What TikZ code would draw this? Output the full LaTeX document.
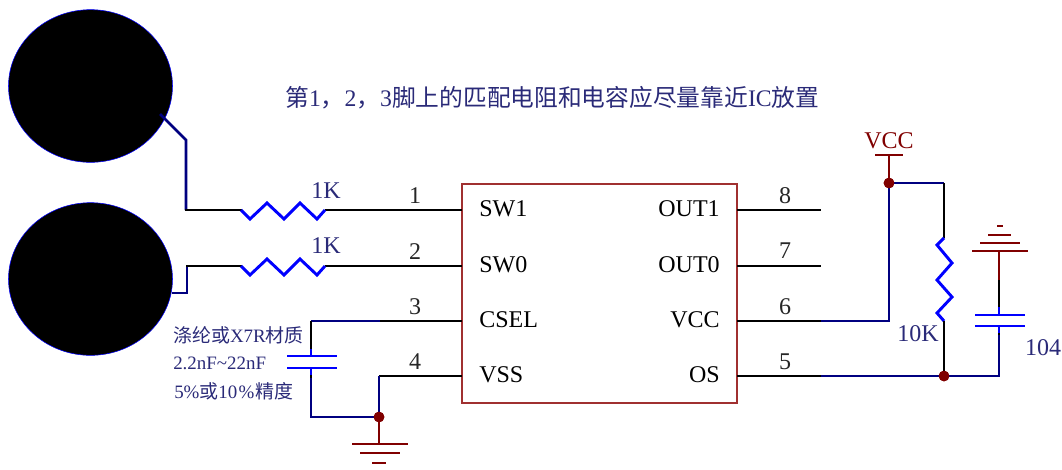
\documentclass[tikz,border=0pt]{standalone}
\usepackage{fontspec}
\setmainfont{Liberation Serif}
\newfontfamily\cjk{Noto Sans CJK SC}
\usetikzlibrary{shapes.geometric}
\definecolor{wnavy}{HTML}{000080}
\definecolor{wblue}{HTML}{0000FF}
\definecolor{wred}{HTML}{800000}
\definecolor{tnavy}{HTML}{2A2A78}
\definecolor{icred}{HTML}{A03030}
\tikzset{
  x=0.75pt,y=-0.75pt,
  wire/.style={black,line width=2pt},
  nwire/.style={wnavy,line width=2pt,line join=miter},
  part/.style={wblue,line width=2.2pt},
  pwr/.style={wred,line width=2pt},
  pad/.style={ellipse,draw=wblue,line width=0.4pt,fill=black,minimum width=123pt,minimum height=114.5pt,inner sep=0pt},
  dot/.style={circle,fill=wred,minimum size=8pt,inner sep=0pt},
  txt/.style={inner sep=0pt,font=\fontsize{18pt}{20pt}\selectfont},
  lbl/.style={txt,text=tnavy},
  note/.style={inner sep=0pt,anchor=west,text=tnavy,font=\fontsize{14.2pt}{16pt}\selectfont},
  ic/.style={draw=icred,line width=1.2pt,minimum width=206.25pt,minimum height=164.25pt,inner sep=0pt},
}
\begin{document}
\begin{tikzpicture}
\useasboundingbox (0,0) rectangle (1062,469);
% pads and IC
\node[pad] (pad1) at (90.5,86) {};
\node[pad] (pad2) at (90.5,279) {};
\node[ic] (ic) at (599.5,293.5) {};
% title
\node[lbl,anchor=west,font=\fontsize{17.8pt}{20pt}\selectfont] (title) at (285,98) {{\cjk 第}1{\cjk ，}2{\cjk ，}3{\cjk 脚上的匹配电阻和电容应尽量靠近}IC{\cjk 放置}};
% coordinates
\coordinate (p1) at (462,210); \coordinate (p2) at (462,266); \coordinate (p3) at (462,321); \coordinate (p4) at (462,376);
\coordinate (p8) at (737,210); \coordinate (p7) at (737,266); \coordinate (p6) at (737,321); \coordinate (p5) at (737,376);
\coordinate (e8) at (821,210); \coordinate (e7) at (821,266); \coordinate (e6) at (821,321); \coordinate (e5) at (821,376);
\coordinate (r1a) at (241,210); \coordinate (r1b) at (325,210);
\coordinate (r2a) at (241,266); \coordinate (r2b) at (325,266);
\coordinate (a1) at (160,114); \coordinate (a2) at (186,140); \coordinate (a3) at (186,210);
\coordinate (b1) at (172,293); \coordinate (b2) at (187,293); \coordinate (b3) at (187,266);
\coordinate (c1) at (380,321); \coordinate (c2) at (311,321); \coordinate (ct) at (311,356); \coordinate (cb) at (311,368); \coordinate (c3) at (311,417);
\coordinate (d1) at (379,376);
\node[dot] (jg) at (379,417) {};
\coordinate (g1) at (379,444);
\node[dot] (jv) at (889,183) {};
\node[dot] (jo) at (944,376) {};
\coordinate (v1) at (889,321); \coordinate (v2) at (889,155);
\coordinate (k1) at (944,183); \coordinate (k2) at (944,238); \coordinate (k3) at (944,321);
\coordinate (f1) at (999,376); \coordinate (fb) at (999,326); \coordinate (ft) at (999,315); \coordinate (f2) at (999,280); \coordinate (f3) at (999,251);
% wires
\draw[nwire] (a1) -- (a2) -- (a3);
\draw[wire,line cap=rect] (a3) -- (r1a);
\draw[wire] (r1b) -- (p1);
\draw[part] (r1a) -- ++(9,9) -- ++(17,-16) -- ++(17,16) -- ++(16,-16) -- ++(17,16) -- (r1b);
\draw[nwire] (b1) -- (b2) -- (b3);
\draw[wire,line cap=rect] (b3) -- (r2a);
\draw[wire] (r2b) -- (p2);
\draw[part] (r2a) -- ++(9,9) -- ++(17,-16) -- ++(17,16) -- ++(16,-16) -- ++(17,16) -- (r2b);
\draw[wire] (c1) -- (p3);
\draw[nwire] (c1) -- (c2);
\draw[wire] (c2) -- (ct);
\draw[wire] (cb) -- (311,378);
\draw[nwire] (311,378) -- (c3) -- (jg.center);
\draw[part] (287,356) -- (337,356); \draw[part] (287,368) -- (337,368);
\draw[part] (ct) -- ++(0,-7); \draw[part] (cb) -- ++(0,7);
\draw[wire] (d1) -- (p4);
\draw[nwire] (d1) -- (jg.center);
\draw[pwr] (jg.center) -- (g1);
\draw[pwr] (352,444) -- (408,444);
\draw[pwr] (360,453) -- (400,453);
\draw[pwr] (372,463) -- (386,463);
\draw[wire] (p8) -- (e8); \draw[wire] (p7) -- (e7);
\draw[wire] (p6) -- (e6); \draw[wire] (p5) -- (e5);
\draw[nwire] (e6) -- (v1) -- (jv.center);
\draw[pwr] (jv.center) -- (v2);
\draw[pwr] (875,155) -- (903,155);
\draw[nwire] (jv.center) -- (k1);
\draw[wire] (k1) -- (k2);
\draw[part] (k2) -- ++(-7,7) -- ++(15,18) -- ++(-15,17) -- ++(15,17) -- ++(-15,16) -- (k3);
\draw[wire] (k3) -- (jo.center);
\draw[nwire] (e5) -- (jo.center) -- (f1) -- (999,335);
\draw[wire] (999,335) -- (fb);
\draw[part] (fb) -- ++(0,7); \draw[part] (ft) -- ++(0,-8);
\draw[wire] (999,307) -- (f2);
\draw[pwr] (f2) -- (f3);
\draw[part] (975,315) -- (1025,315); \draw[part] (975,326) -- (1025,326);
\draw[pwr] (972,251) -- (1028,251);
\draw[pwr] (980,243) -- (1020,243);
\draw[pwr] (988,235) -- (1011,235);
\draw[pwr] (997,226) -- (1003,226);
\node[dot] at (jg) {}; \node[dot] at (jv) {}; \node[dot] at (jo) {};
% pin numbers
\foreach \n/\x/\y in {1/415/196,2/415/252,3/415/307,4/415/362,8/785/196,7/785/251,6/785/307,5/785/362}
  \node[txt,text=black!85] (n\n) at (\x,\y) {\n};
% pin names
\node[txt,anchor=west] (sw1) at (479,209) {SW1};
\node[txt,anchor=west] (sw0) at (479,265) {SW0};
\node[txt,anchor=west] (csel) at (479,320) {CSEL};
\node[txt,anchor=west] (vss) at (479,375) {VSS};
\node[txt,anchor=east] (out1) at (720,209) {OUT1};
\node[txt,anchor=east] (out0) at (720,265) {OUT0};
\node[txt,anchor=east] (vccp) at (720,320) {VCC};
\node[txt,anchor=east] (os) at (720,375) {OS};
% values
\node[lbl] (r1v) at (326,191) {1K};
\node[lbl] (r2v) at (326,246) {1K};
\node[lbl] (r3v) at (918,334) {10K};
\node[lbl] (c2v) at (1043,348) {104};
\node[txt,text=wred] (vcc) at (889,141) {VCC};
% note
\node[note] (m1) at (173,335) {{\cjk 涤纶或}X7R{\cjk 材质}};
\node[note] (m2) at (173,363) {2.2nF\char`\~22nF};
\node[note] (m3) at (174,391) {5\%{\cjk 或}10{\kern1pt}\%{\kern1pt\cjk 精度}};
\end{tikzpicture}
\end{document}
